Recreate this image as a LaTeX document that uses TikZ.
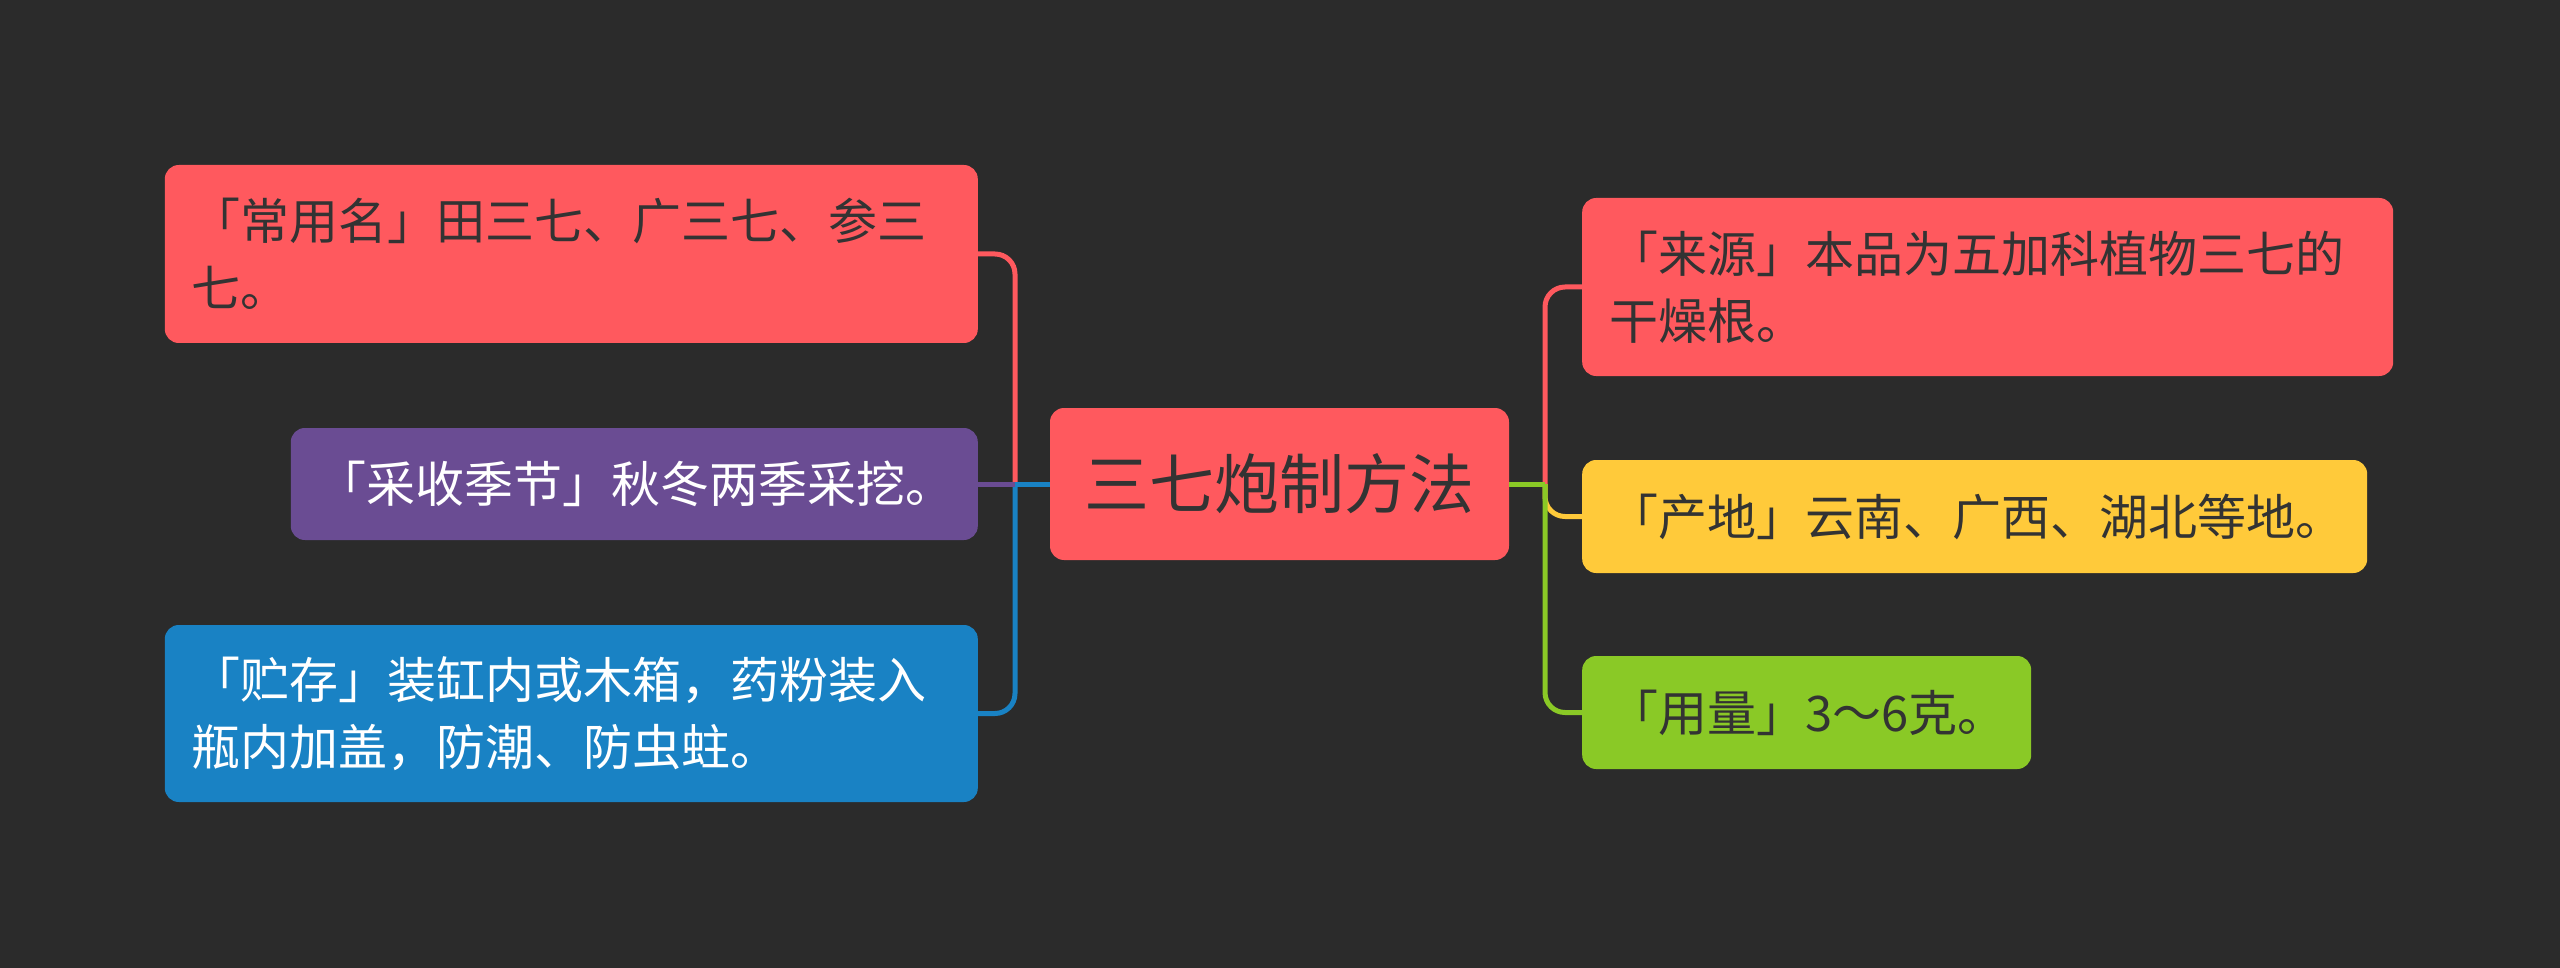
\documentclass[tikz,border=0pt]{standalone}
\usepackage{fontspec}
\newfontfamily\cjk{Noto Sans CJK SC}
\definecolor{bg}{HTML}{2B2B2B}
\definecolor{cred}{HTML}{FF595E}
\definecolor{cpurple}{HTML}{6A4C93}
\definecolor{cblue}{HTML}{1982C4}
\definecolor{cyellow}{HTML}{FFCA3A}
\definecolor{cgreen}{HTML}{8AC926}
\definecolor{tdark}{HTML}{333333}
\begin{document}
\begin{tikzpicture}[x=1pt,y=-1pt,
  box/.style={rounded corners=14pt, inner xsep=27pt, inner ysep=0pt, align=left,
    font=\cjk\fontsize{49}{67}\selectfont, text=tdark},
  link/.style={line width=5pt, rounded corners=20pt}]
\fill[bg] (0,0) rectangle (2560,968);
\useasboundingbox (0,0) rectangle (2560,968);
% center
\node[box, fill=cred, minimum width=459pt, minimum height=152pt, align=center,
  inner xsep=0pt, font=\cjk\fontsize{65}{70}\selectfont] (c) at (1279.5,484) {三七炮制方法};
% left nodes
\node[box, fill=cred, anchor=east, text width=759pt, minimum height=178pt] (n1) at (978,254) {「常用名」田三七、广三七、参三\\七。};
\node[box, fill=cpurple, text=white, anchor=east, text width=633pt, minimum height=112pt] (n2) at (978,484) {「采收季节」秋冬两季采挖。};
\node[box, fill=cblue, text=white, anchor=east, text width=759pt, minimum height=177pt] (n3) at (978,713.5) {「贮存」装缸内或木箱，药粉装入\\瓶内加盖，防潮、防虫蛀。};
% right nodes
\node[box, fill=cred, anchor=west, text width=757pt, minimum height=178pt] (r1) at (1582,287) {「来源」本品为五加科植物三七的\\干燥根。};
\node[box, fill=cyellow, anchor=west, text width=731pt, minimum height=113pt] (r2) at (1582,516.5) {「产地」云南、广西、湖北等地。};
\node[box, fill=cgreen, anchor=west, text width=395pt, minimum height=113pt] (r3) at (1582,712.5) {「用量」3～6克。};
% bus coordinates
\coordinate (bl) at (1015,484);
\coordinate (br) at (1545,484);
% left connectors
\draw[link, cred] (n1.east) -| (bl);
\draw[link, cblue] (bl) |- (n3.east);
\draw[link, cpurple] (n2.east) -- (bl);
\draw[link, cblue] (c.west) -- (bl);
% right connectors
\draw[link, cred] (br) |- (r1.west);
\draw[link, cyellow] (br) |- (r2.west);
\draw[link, cgreen] (br) |- (r3.west);
\draw[link, cgreen] (c.east) -- (br);
\end{tikzpicture}
\end{document}
